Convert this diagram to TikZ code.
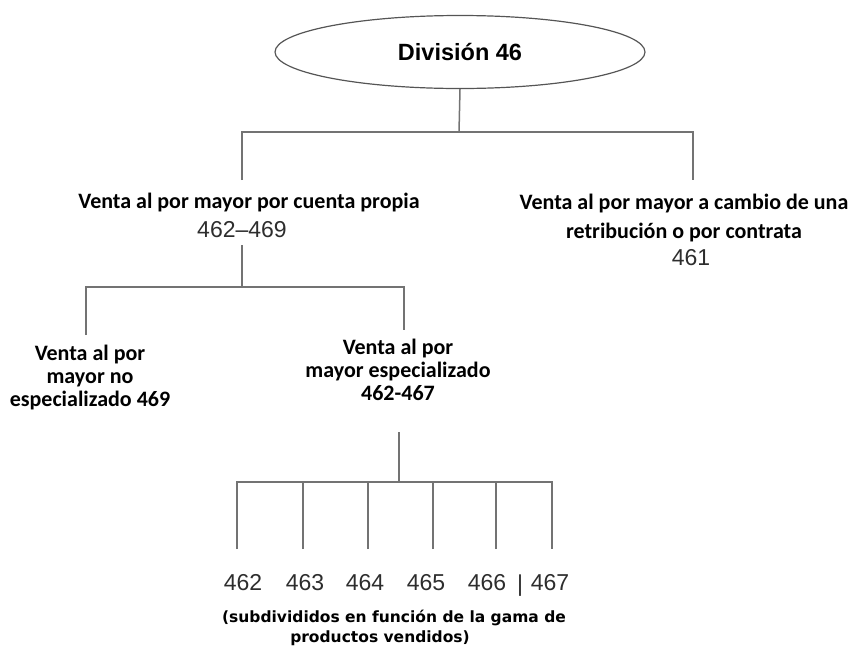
\documentclass[tikz,border=0pt]{standalone}
\usepackage{fontspec}
\setmainfont{Carlito}
\newfontfamily\numfont{Liberation Sans}
\newfontfamily\notefont{DejaVu Sans}
\usepackage{tikz}
\usetikzlibrary{
  shapes.geometric
}
\definecolor{divline}{RGB}{115,115,115}
\definecolor{divedge}{RGB}{85,85,85}
\definecolor{divnum}{RGB}{45,45,45}
\tikzset{
  divRoot/.style={
    ellipse,
    draw=divedge,
    line width=1.2pt,
    minimum width=370pt,
    minimum height=73pt,
    inner sep=0pt,
    font=\numfont\bfseries\fontsize{23.5}{26}\selectfont
  },
  divHead/.style={
    align=center,
    inner sep=0pt,
    font=\bfseries\fontsize{22}{29}\selectfont
  },
  divGroup/.style={
    align=center,
    inner sep=0pt,
    font=\bfseries\fontsize{22}{23}\selectfont
  },
  divNumber/.style={
    inner sep=0pt,
    text=divnum,
    font=\numfont\fontsize{23}{26}\selectfont
  },
  divNote/.style={
    align=center,
    inner sep=0pt,
    font=\notefont\bfseries\fontsize{15.5}{20}\selectfont
  },
  divBranch/.style={
    draw=divline,
    line width=1.5pt
  }
}

\begin{document}
\begin{tikzpicture}[x=1pt, y=-1pt]
  \useasboundingbox (0,0) rectangle (854,646);

  \node[divRoot] (div46) at (460,52) {División 46};

  \node[divHead] (propia) at (249,203) {Venta al por mayor por cuenta propia};
  \node[divNumber] (propiaNum) at (242,230) {462–469};
  \node[divHead] (contrata) at (684,218)
    {Venta al por mayor a cambio de una\\retribución o por contrata};
  \node[divNumber] (contrataNum) at (691,258) {461};

  \node[divGroup] (noEsp) at (90,378) {Venta al por\\mayor no\\especializado 469};
  \node[divGroup] (esp) at (398,370) {Venta al por\\mayor especializado\\462-467};

  \foreach \code/\xpos in {462/243, 463/305, 464/365, 465/426, 466/487, 467/550}
    \node[divNumber] (num\code) at (\xpos,583) {\code};
  \node[divNumber] (numSep) at (520,586) {|};
  \node[divNote] (note) at (394,628)
    {(subdivididos en función de la gama de\\productos vendidos)\hspace*{28pt}};

  \coordinate (rootJoin) at (459,132);
  \coordinate (propiaIn) at (242,180);
  \coordinate (contrataIn) at (693,180);
  \coordinate (propiaOut) at (242,245);
  \coordinate (propiaJoin) at (242,287);
  \coordinate (noEspIn) at (86,335);
  \coordinate (espIn) at (404,330);
  \coordinate (espOut) at (399,432);
  \coordinate (espJoin) at (399,482);
  \foreach \code/\xpos in {462/237, 463/303, 464/368, 465/433, 466/496, 467/552}
    \coordinate (leaf\code) at (\xpos,549);

  \draw[divBranch] (div46.south) -- (rootJoin);
  \draw[divBranch] (propiaIn) |- (rootJoin) -| (contrataIn);
  \draw[divBranch] (propiaOut) -- (propiaJoin);
  \draw[divBranch] (noEspIn) |- (propiaJoin) -| (espIn);
  \draw[divBranch] (espOut) -- (espJoin);
  \draw[divBranch] (leaf462) |- (espJoin) -| (leaf467);
  \foreach \code in {463, 464, 465, 466}
    \draw[divBranch] (leaf\code) -- (leaf\code |- espJoin);
\end{tikzpicture}
\end{document}
